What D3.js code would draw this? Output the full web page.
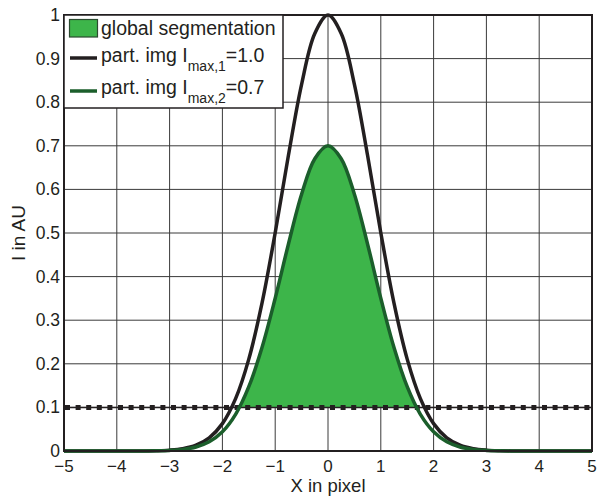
<!DOCTYPE html>
<html><head><meta charset="utf-8">
<script src="https://cdn.jsdelivr.net/npm/d3@7"></script>
<style>
body{margin:0;background:#fff;}
text{font-family:"Liberation Sans",Arial,Helvetica,sans-serif;fill:#231f20;}
</style></head>
<body><svg id="c" width="597" height="497"></svg>
<script>
// ---- data ----
const xValues = [-5,-4.75,-4.5,-4.25,-4,-3.75,-3.5,-3.25,-3,-2.75,-2.5,-2.25,-2,-1.75,-1.5,-1.25,-1,-0.75,-0.5,-0.25,0,
                 0.25,0.5,0.75,1,1.25,1.5,1.75,2,2.25,2.5,2.75,3,3.25,3.5,3.75,4,4.25,4.5,4.75,5];
const img1Values = [0,0,0,0,0,0,0.0002,0.0007,0.002,0.0053,0.0132,0.0301,0.0628,0.1201,0.2107,0.3391,0.5006,0.6776,0.8411,0.9577,1,
                    0.9577,0.8411,0.6776,0.5006,0.3391,0.2107,0.1201,0.0628,0.0301,0.0132,0.0053,0.002,0.0007,0.0002,0,0,0,0,0,0];
const img2Values = [0,0,0,0,0,0,0.0001,0.0005,0.0014,0.0037,0.0092,0.0211,0.044,0.0841,0.1475,0.2374,0.3504,0.4743,0.5888,0.6704,0.7,
                    0.6704,0.5888,0.4743,0.3504,0.2374,0.1475,0.0841,0.044,0.0211,0.0092,0.0037,0.0014,0.0005,0.0001,0,0,0,0,0,0];
const threshold = 0.1;
const xTicks = [-5,-4,-3,-2,-1,0,1,2,3,4,5];
const xTickLabels = ["−5","−4","−3","−2","−1","0","1","2","3","4","5"];
const yTicks = [0,0.1,0.2,0.3,0.4,0.5,0.6,0.7,0.8,0.9,1];
const yTickLabels = ["0","0.1","0.2","0.3","0.4","0.5","0.6","0.7","0.8","0.9","1"];
const legendLabels = [
  {main:"global segmentation"},
  {main:"part. img I", sub:"max,1", tail:"=1.0"},
  {main:"part. img I", sub:"max,2", tail:"=0.7"}
];

// ---- drawing ----
const svg = d3.select("#c");
const m = {l:64, r:5, t:15, b:46};
const W = 597, H = 497;
const x = d3.scaleLinear().domain([-5,5]).range([m.l, W-m.r]);
const y = d3.scaleLinear().domain([0,1]).range([H-m.b, m.t]);
const BLACK = "#231f20", GREEN_FILL = "#3db54a", GREEN_LINE = "#1b5e2b";

const pts1 = xValues.map((v,i)=>[v,img1Values[i]]);
const pts2 = xValues.map((v,i)=>[v,img2Values[i]]);

// grid
const g = svg.append("g");
g.selectAll("line.vx").data(xTicks).join("line")
  .attr("x1",d=>x(d)).attr("x2",d=>x(d)).attr("y1",y(0)).attr("y2",y(1))
  .attr("stroke","#3a3a3a").attr("stroke-width",1);
g.selectAll("line.hy").data(yTicks).join("line")
  .attr("y1",d=>y(d)).attr("y2",d=>y(d)).attr("x1",x(-5)).attr("x2",x(5))
  .attr("stroke","#3a3a3a").attr("stroke-width",1);

// clip above threshold
svg.append("clipPath").attr("id","above").append("rect")
  .attr("x",x(-5)).attr("width",x(5)-x(-5)).attr("y",y(1)).attr("height",y(threshold)-y(1));

const area = d3.area().x(d=>x(d[0])).y0(y(threshold)).y1(d=>y(d[1])).curve(d3.curveCatmullRom);
svg.append("path").datum(pts2).attr("d",area).attr("fill",GREEN_FILL).attr("clip-path","url(#above)");

// threshold dotted line
svg.append("line").attr("x1",x(-5)).attr("x2",x(5)).attr("y1",y(threshold)).attr("y2",y(threshold))
  .attr("stroke",BLACK).attr("stroke-width",1.5);
svg.append("line").attr("x1",x(-5)+1).attr("x2",x(5)).attr("y1",y(threshold)).attr("y2",y(threshold))
  .attr("stroke",BLACK).attr("stroke-width",5).attr("stroke-dasharray","5,5.6");

const line = d3.line().x(d=>x(d[0])).y(d=>y(d[1])).curve(d3.curveCatmullRom);
svg.append("path").datum(pts1).attr("d",line).attr("fill","none").attr("stroke",BLACK).attr("stroke-width",3.5);
svg.append("path").datum(pts2).attr("d",line).attr("fill","none").attr("stroke",GREEN_LINE).attr("stroke-width",3.5);

// frame
svg.append("rect").attr("x",x(-5)).attr("y",y(1)).attr("width",x(5)-x(-5)).attr("height",y(0)-y(1))
  .attr("fill","none").attr("stroke",BLACK).attr("stroke-width",2);

// tick labels
svg.selectAll("text.xt").data(xTicks).join("text")
  .attr("x",d=>x(d)).attr("y",y(0)+20.5).attr("text-anchor","middle").attr("font-size",17)
  .text((d,i)=>xTickLabels[i]);
svg.selectAll("text.yt").data(yTicks).join("text")
  .attr("x",x(-5)-4).attr("y",d=>y(d)+6).attr("text-anchor","end").attr("font-size",17.5)
  .text((d,i)=>yTickLabels[i]);

// axis titles
svg.append("text").attr("x",(x(-5)+x(5))/2).attr("y",491.5).attr("text-anchor","middle").attr("font-size",18.5).text("X in pixel");
svg.append("text").attr("transform",`translate(25,${(y(0)+y(1))/2}) rotate(-90)`).attr("text-anchor","middle")
  .attr("font-size",19).text("I in AU");

// legend
const lg = svg.append("g");
lg.append("rect").attr("x",x(-5)).attr("y",y(1)).attr("width",219).attr("height",93)
  .attr("fill","#fff").attr("stroke",BLACK).attr("stroke-width",1.5);
lg.append("rect").attr("x",69.5).attr("y",19.5).attr("width",28).attr("height",17.5)
  .attr("fill",GREEN_FILL).attr("stroke","#2b4a30").attr("stroke-width",1.2);
lg.append("line").attr("x1",70).attr("x2",97).attr("y1",58).attr("y2",58).attr("stroke",BLACK).attr("stroke-width",3.5);
lg.append("line").attr("x1",70).attr("x2",97).attr("y1",91).attr("y2",91).attr("stroke",GREEN_LINE).attr("stroke-width",3.5);
const baselines = [35,62,94];
legendLabels.forEach((L,i)=>{
  const t = lg.append("text").attr("x",101).attr("y",baselines[i]).attr("font-size",19.5);
  t.append("tspan").text(L.main);
  if(L.sub){
    t.append("tspan").attr("dy",9).attr("font-size",14).text(L.sub);
    t.append("tspan").attr("dy",-9).text(L.tail);
  }
});
</script></body></html>
